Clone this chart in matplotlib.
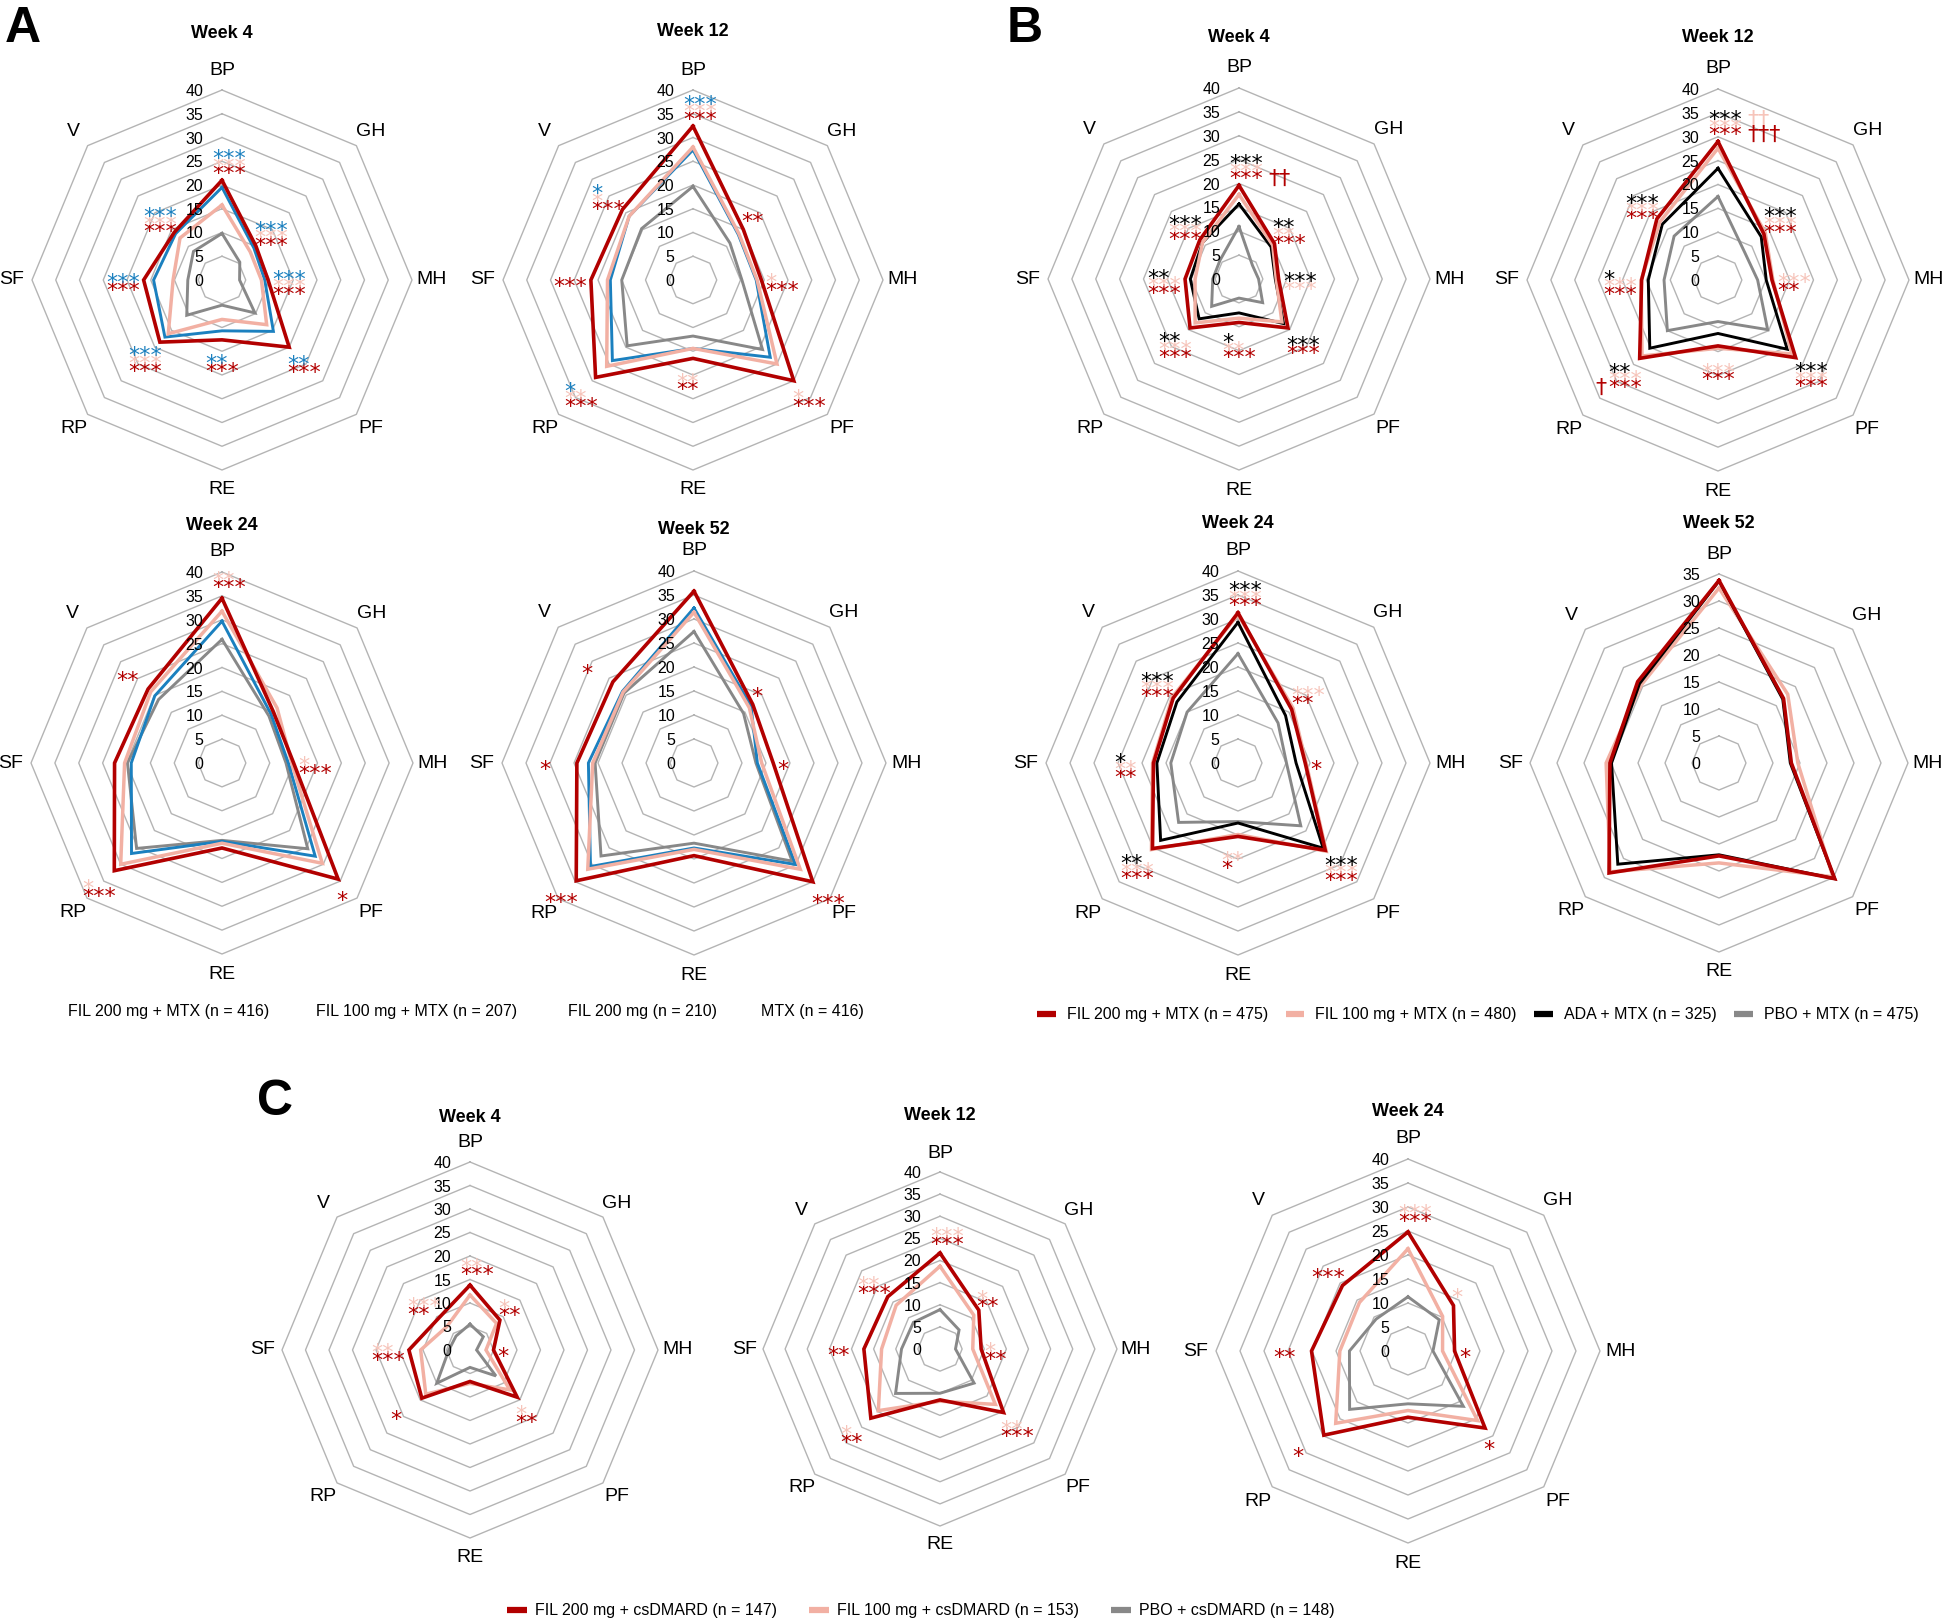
import numpy as np
import matplotlib
matplotlib.use('Agg')
import matplotlib.pyplot as plt
from matplotlib.lines import Line2D

plt.rcParams['font.family'] = ['Liberation Sans', 'DejaVu Sans']

W, H = 1944, 1620
DOMAINS = ['BP', 'GH', 'MH', 'PF', 'RE', 'RP', 'SF', 'V']

# ---- Panel A: FIL 200 + MTX, FIL 100 + MTX, FIL 200, MTX
A_W4_FIL200_MTX = [21.0, 10.1, 9.7, 20.0, 12.6, 18.5, 16.5, 14.2]
A_W4_FIL100_MTX = [15.8, 8.4, 8.3, 13.3, 8.3, 16.0, 10.3, 12.5]
A_W4_FIL200 = [19.5, 9.5, 9.0, 15.3, 10.7, 17.0, 14.4, 13.8]
A_W4_MTX = [9.8, 5.3, 3.7, 9.8, 5.3, 10.5, 7.2, 8.5]

A_W12_FIL200_MTX = [32.4, 15.0, 14.4, 30.0, 16.5, 29.0, 21.5, 21.0]
A_W12_FIL100_MTX = [28.0, 13.7, 13.5, 25.0, 14.4, 25.7, 18.0, 19.0]
A_W12_FIL200 = [27.4, 13.5, 13.3, 23.0, 14.4, 24.0, 17.4, 19.0]
A_W12_MTX = [19.7, 11.0, 10.3, 20.7, 11.8, 19.6, 15.0, 15.3]

A_W24_FIL200_MTX = [34.5, 15.2, 15.0, 34.4, 17.8, 31.9, 22.5, 21.9]
A_W24_FIL100_MTX = [31.8, 16.3, 14.6, 29.7, 16.8, 30.0, 20.4, 21.1]
A_W24_FIL200 = [29.7, 14.5, 13.9, 27.6, 16.4, 26.8, 19.0, 19.9]
A_W24_MTX = [25.9, 13.9, 13.4, 25.4, 16.2, 25.3, 19.8, 18.8]

A_W52_FIL200_MTX = [35.8, 17.3, 16.5, 35.0, 19.3, 34.7, 24.4, 23.9]
A_W52_FIL100_MTX = [31.4, 16.3, 14.1, 31.3, 18.0, 31.3, 21.1, 20.9]
A_W52_FIL200 = [32.3, 16.8, 13.2, 29.9, 17.7, 30.5, 22.0, 21.1]
A_W52_MTX = [27.4, 14.6, 12.9, 28.9, 16.7, 27.4, 20.6, 20.6]

# ---- Panel B: FIL 200 + MTX, FIL 100 + MTX, ADA + MTX, PBO + MTX
B_W4_FIL200 = [19.6, 10.5, 8.3, 14.5, 9.1, 14.5, 11.3, 11.6]
B_W4_FIL100 = [17.7, 10.0, 7.8, 12.7, 8.2, 13.0, 9.2, 10.8]
B_W4_ADA = [15.7, 9.5, 7.6, 13.2, 7.1, 11.8, 10.2, 10.8]
B_W4_PBO = [11.0, 4.0, 4.1, 7.0, 4.0, 8.1, 5.5, 5.6]

B_W12_FIL200 = [29.0, 13.6, 11.3, 23.0, 13.8, 23.2, 16.0, 18.1]
B_W12_FIL100 = [27.6, 14.0, 11.5, 21.9, 14.3, 22.5, 16.1, 17.2]
B_W12_ADA = [23.4, 12.8, 10.1, 20.5, 11.2, 20.2, 14.6, 16.5]
B_W12_PBO = [17.5, 8.0, 8.3, 14.7, 8.7, 15.0, 11.3, 13.0]

B_W24_FIL200 = [31.3, 15.8, 14.0, 25.7, 15.3, 25.2, 17.6, 19.1]
B_W24_FIL100 = [30.9, 16.2, 14.2, 26.0, 14.9, 25.5, 17.8, 19.4]
B_W24_ADA = [29.3, 14.0, 12.1, 25.1, 12.5, 22.8, 16.9, 18.0]
B_W24_PBO = [22.8, 11.8, 10.1, 18.5, 12.2, 17.5, 14.0, 15.0]

B_W52_FIL200 = [33.8, 16.9, 13.4, 30.3, 17.2, 28.8, 20.2, 21.3]
B_W52_FIL100 = [32.4, 18.0, 14.6, 29.8, 18.5, 28.5, 20.9, 20.4]
B_W52_ADA = [33.7, 16.7, 13.2, 30.3, 17.0, 26.5, 19.9, 20.8]

# ---- Panel C: FIL 200 + csDMARD, FIL 100 + csDMARD, PBO + csDMARD
C_W4_FIL200 = [13.8, 9.0, 5.0, 14.2, 6.7, 14.5, 13.0, 9.5]
C_W4_FIL100 = [11.7, 8.0, 3.4, 12.0, 7.1, 13.3, 10.5, 7.0]
C_W4_PBO = [5.5, 4.0, 1.4, 7.8, 3.7, 10.0, 4.5, 4.2]

C_W12_FIL200 = [21.7, 12.4, 9.3, 20.3, 11.5, 22.1, 17.2, 16.7]
C_W12_FIL100 = [18.7, 10.8, 7.4, 17.7, 11.8, 19.7, 13.2, 14.0]
C_W12_PBO = [8.9, 6.1, 3.5, 10.9, 10.0, 14.2, 8.7, 8.5]

C_W24_FIL200 = [24.8, 13.4, 9.7, 22.7, 13.8, 24.8, 20.1, 19.3]
C_W24_FIL100 = [21.3, 10.2, 7.2, 20.5, 12.4, 21.3, 14.2, 14.3]
C_W24_PBO = [11.3, 9.2, 5.2, 16.3, 11.0, 17.2, 12.2, 9.4]

# significance marks, rows from top to bottom
A_W4_SIG = {'BP': [('***', 'b'), ('***', 'p'), ('***', 'r')],
            'GH': [('***', 'b'), ('***', 'p'), ('***', 'r')],
            'MH': [('***', 'b'), ('***', 'p'), ('***', 'r')],
            'PF': [('**', 'b'), ('***', 'r')],
            'RE': [('**', 'b'), ('***', 'r')],
            'RP': [('***', 'b'), ('***', 'p'), ('***', 'r')],
            'SF': [('***', 'b'), ('***', 'r')],
            'V': [('***', 'b'), ('***', 'p'), ('***', 'r')]}
A_W12_SIG = {'BP': [('***', 'b'), ('***', 'p'), ('***', 'r')],
             'GH': [('**', 'r')],
             'MH': [('*', 'p'), ('***', 'r')],
             'PF': [('*', 'p'), ('***', 'r')],
             'RE': [('**', 'p'), ('**', 'r')],
             'RP': [('*', 'b'), ('**', 'p'), ('***', 'r')],
             'SF': [('***', 'r')],
             'V': [('*', 'b'), ('*', 'p'), ('***', 'r')]}
A_W24_SIG = {'BP': [('**', 'p'), ('***', 'r')],
             'MH': [('*', 'p'), ('***', 'r')],
             'PF': [('*', 'r')],
             'RP': [('*', 'p'), ('***', 'r')],
             'V': [('**', 'r')]}
A_W52_SIG = {'BP': [('*', 'b'), ('*', 'p'), ('***', 'r')],
             'GH': [('*', 'r')],
             'MH': [('*', 'r')],
             'PF': [('***', 'r')],
             'RP': [('***', 'r')],
             'SF': [('*', 'r')],
             'V': [('*', 'r')]}
B_W4_SIG = {'BP': [('***', 'k'), ('***', 'p'), [('***', 'r'), ('††', 'r')]],
            'GH': [('**', 'k'), ('**', 'p'), ('***', 'r')],
            'MH': [('***', 'k'), ('***', 'p')],
            'PF': [('***', 'k'), ('***', 'r')],
            'RE': [('*', 'k'), ('**', 'p'), ('***', 'r')],
            'RP': [('**', 'k'), ('***', 'p'), ('***', 'r')],
            'SF': [('**', 'k'), ('***', 'p'), ('***', 'r')],
            'V': [('***', 'k'), ('***', 'p'), ('***', 'r')]}
B_W12_SIG = {'BP': [[('***', 'k'), ('††', 'p')], ('***', 'p'), [('***', 'r'), ('†††', 'r')]],
             'GH': [('***', 'k'), ('***', 'p'), ('***', 'r')],
             'MH': [('***', 'p'), ('**', 'r')],
             'PF': [('***', 'k'), ('***', 'p'), ('***', 'r')],
             'RE': [('***', 'p'), ('***', 'r')],
             'RP': [('**', 'k'), ('***', 'p'), [('†', 'r'), ('***', 'r')]],
             'SF': [('*', 'k'), ('***', 'p'), ('***', 'r')],
             'V': [('***', 'k'), ('***', 'p'), ('***', 'r')]}
B_W24_SIG = {'BP': [('***', 'k'), ('***', 'p'), ('***', 'r')],
             'GH': [('***', 'p'), ('**', 'r')],
             'MH': [('*', 'r')],
             'PF': [('***', 'k'), ('***', 'p'), ('***', 'r')],
             'RE': [('**', 'p'), ('*', 'r')],
             'RP': [('**', 'k'), ('***', 'p'), ('***', 'r')],
             'SF': [('*', 'k'), ('**', 'p'), ('**', 'r')],
             'V': [('***', 'k'), ('***', 'p'), ('***', 'r')]}
B_W52_SIG = {}
C_W4_SIG = {'BP': [('**', 'p'), ('***', 'r')],
            'GH': [('*', 'p'), ('**', 'r')],
            'MH': [('*', 'r')],
            'PF': [('*', 'p'), ('**', 'r')],
            'RP': [('*', 'r')],
            'SF': [('**', 'p'), ('***', 'r')],
            'V': [('***', 'p'), ('**', 'r')]}
C_W12_SIG = {'BP': [('***', 'p'), ('***', 'r')],
             'GH': [('*', 'p'), ('**', 'r')],
             'MH': [('*', 'p'), ('**', 'r')],
             'PF': [('**', 'p'), ('***', 'r')],
             'RP': [('*', 'p'), ('**', 'r')],
             'SF': [('**', 'r')],
             'V': [('**', 'p'), ('***', 'r')]}
C_W24_SIG = {'BP': [('***', 'p'), ('***', 'r')],
             'GH': [('*', 'p')],
             'MH': [('*', 'r')],
             'PF': [('*', 'r')],
             'RP': [('*', 'r')],
             'SF': [('**', 'r')],
             'V': [('***', 'r')]}

A_LABELS = ['FIL 200 mg + MTX (n = 416)', 'FIL 100 mg + MTX (n = 207)',
            'FIL 200 mg (n = 210)', 'MTX (n = 416)']
B_LABELS = ['FIL 200 mg + MTX (n = 475)', 'FIL 100 mg + MTX (n = 480)',
            'ADA + MTX (n = 325)', 'PBO + MTX (n = 475)']
C_LABELS = ['FIL 200 mg + csDMARD (n = 147)', 'FIL 100 mg + csDMARD (n = 153)',
            'PBO + csDMARD (n = 148)']

COLORS = {'r': '#b20000', 'p': '#f2b0a3', 'b': '#1b80bf', 'g': '#888888', 'k': '#000000'}
SIG_COLORS = {'r': '#b20000', 'p': '#f6c4ba', 'b': '#1b80bf', 'k': '#000000'}
LW = {'r': 2.6, 'p': 2.5, 'b': 2.1, 'g': 2.1, 'k': 2.1}
SIG_FONT = dict(fontsize=16, family='DejaVu Sans')
ROW_PT = 5.5
SIG_BASE = 9.5

fig = plt.figure(figsize=(W / 100, H / 100), dpi=100)


def draw_radar(cx, cy, R, title, title_off, series, sig, rmax=40):
    ax = fig.add_axes([(cx - R) / W, (H - cy - R) / H, 2 * R / W, 2 * R / H],
                      projection='polar')
    ax.set_theta_zero_location('N')
    ax.set_theta_direction(-1)
    ax.set_ylim(0, rmax)
    ax.set_axis_off()
    theta = np.linspace(0, 2 * np.pi, len(DOMAINS) + 1)

    for v in range(5, rmax + 1, 5):
        ax.plot(theta, [v] * len(theta), color='#b4b4b4', lw=1.0, zorder=1, clip_on=False)
    for v in range(0, rmax + 1, 5):
        ax.annotate(str(v), xy=(0, v), xytext=(-13.5, 0), textcoords='offset points',
                    ha='right', va='center_baseline', fontsize=11.5, zorder=6)

    for i, (vals, ck) in enumerate(series):
        ax.plot(theta, list(vals) + [vals[0]], color=COLORS[ck], lw=LW[ck],
                solid_joinstyle='miter', zorder=2 + i, clip_on=False)

    for th, d in zip(theta[:-1], DOMAINS):
        ax.text(th, rmax * 1.105, d, ha='center', va='center', fontsize=14)

    ax.text(0.5, 0.5 + title_off / (2 * R), title, transform=ax.transAxes,
            ha='center', va='center', fontsize=13, fontweight='bold')

    top = np.max([v for v, _ in series], axis=0)
    for dom, rows in sig.items():
        i = DOMAINS.index(dom)
        r = top[i] + 0.11 * rmax
        dx = -7 if dom == 'BP' else -12
        n = len(rows)
        for j, row in enumerate(rows):
            segs = row if isinstance(row, list) else [row]
            dy = ((n - 1) / 2 - j) * ROW_PT - SIG_BASE
            k = next(m for m, s in enumerate(segs) if '*' in s[0])
            main = ax.annotate(segs[k][0], xy=(theta[i], r), xytext=(dx, dy),
                               textcoords='offset points', ha='left', va='baseline',
                               color=SIG_COLORS[segs[k][1]], zorder=8 - j, **SIG_FONT)
            prev = main
            for text, ck in segs[k + 1:]:
                prev = ax.annotate(text, xy=(1, 0), xycoords=prev, xytext=(4, 0),
                                   textcoords='offset points', ha='left', va='bottom',
                                   color=SIG_COLORS[ck], **SIG_FONT)
            prev = main
            for text, ck in reversed(segs[:k]):
                prev = ax.annotate(text, xy=(0, 0), xycoords=prev, xytext=(-1, 0),
                                   textcoords='offset points', ha='right', va='bottom',
                                   color=SIG_COLORS[ck], **SIG_FONT)
    return ax


# panel A
draw_radar(222, 280, 190, 'Week 4', 247,
           [(A_W4_MTX, 'g'), (A_W4_FIL200, 'b'), (A_W4_FIL100_MTX, 'p'), (A_W4_FIL200_MTX, 'r')], A_W4_SIG)
draw_radar(693, 280, 190, 'Week 12', 249,
           [(A_W12_MTX, 'g'), (A_W12_FIL200, 'b'), (A_W12_FIL100_MTX, 'p'), (A_W12_FIL200_MTX, 'r')], A_W12_SIG)
draw_radar(222, 763, 191, 'Week 24', 238,
           [(A_W24_MTX, 'g'), (A_W24_FIL200, 'b'), (A_W24_FIL100_MTX, 'p'), (A_W24_FIL200_MTX, 'r')], A_W24_SIG)
draw_radar(694, 763, 192, 'Week 52', 233,
           [(A_W52_MTX, 'g'), (A_W52_FIL200, 'b'), (A_W52_FIL100_MTX, 'p'), (A_W52_FIL200_MTX, 'r')], A_W52_SIG)

# panel B
draw_radar(1239, 279, 191, 'Week 4', 242,
           [(B_W4_PBO, 'g'), (B_W4_ADA, 'k'), (B_W4_FIL100, 'p'), (B_W4_FIL200, 'r')], B_W4_SIG)
draw_radar(1718, 280, 191, 'Week 12', 243,
           [(B_W12_PBO, 'g'), (B_W12_ADA, 'k'), (B_W12_FIL100, 'p'), (B_W12_FIL200, 'r')], B_W12_SIG)
draw_radar(1238, 763, 192, 'Week 24', 240,
           [(B_W24_PBO, 'g'), (B_W24_ADA, 'k'), (B_W24_FIL100, 'p'), (B_W24_FIL200, 'r')], B_W24_SIG)
draw_radar(1719, 763, 189, 'Week 52', 240,
           [(B_W52_FIL100, 'p'), (B_W52_ADA, 'k'), (B_W52_FIL200, 'r')], B_W52_SIG, rmax=35)

# panel C
draw_radar(470, 1350, 188, 'Week 4', 232,
           [(C_W4_PBO, 'g'), (C_W4_FIL100, 'p'), (C_W4_FIL200, 'r')], C_W4_SIG)
draw_radar(940, 1349, 177, 'Week 12', 233,
           [(C_W12_PBO, 'g'), (C_W12_FIL100, 'p'), (C_W12_FIL200, 'r')], C_W12_SIG)
draw_radar(1408, 1351, 192, 'Week 24', 239,
           [(C_W24_PBO, 'g'), (C_W24_FIL100, 'p'), (C_W24_FIL200, 'r')], C_W24_SIG)

# panel letters
for letter, x, y in [('A', 5, 42), ('B', 1007, 42), ('C', 257, 1115)]:
    fig.text(x / W, 1 - y / H, letter, fontsize=36, fontweight='bold', ha='left', va='baseline')

# legend A (text only, as in the source figure)
for lab, x in zip(A_LABELS, [68, 316, 568, 761]):
    fig.text(x / W, 1 - 1011 / H, lab, fontsize=11.5, ha='left', va='center')

# legend B
handles_b = [Line2D([], [], color=COLORS[c], lw=4.5, solid_capstyle='butt') for c in 'rpkg']
fig.legend(handles_b, B_LABELS, loc='center', bbox_to_anchor=(1478 / W, 1 - 1015 / H),
           ncol=4, frameon=False, fontsize=11.5, handlelength=1.15, handletextpad=0.7,
           columnspacing=1.1, borderpad=0, borderaxespad=0)

# legend C
handles_c = [Line2D([], [], color=COLORS[c], lw=4.5, solid_capstyle='butt') for c in 'rpg']
fig.legend(handles_c, C_LABELS, loc='center', bbox_to_anchor=(921 / W, 1 - 1611 / H),
           ncol=3, frameon=False, fontsize=11.5, handlelength=1.25, handletextpad=0.5,
           columnspacing=2.0, borderpad=0, borderaxespad=0)

fig.savefig('out.png', dpi=100)
